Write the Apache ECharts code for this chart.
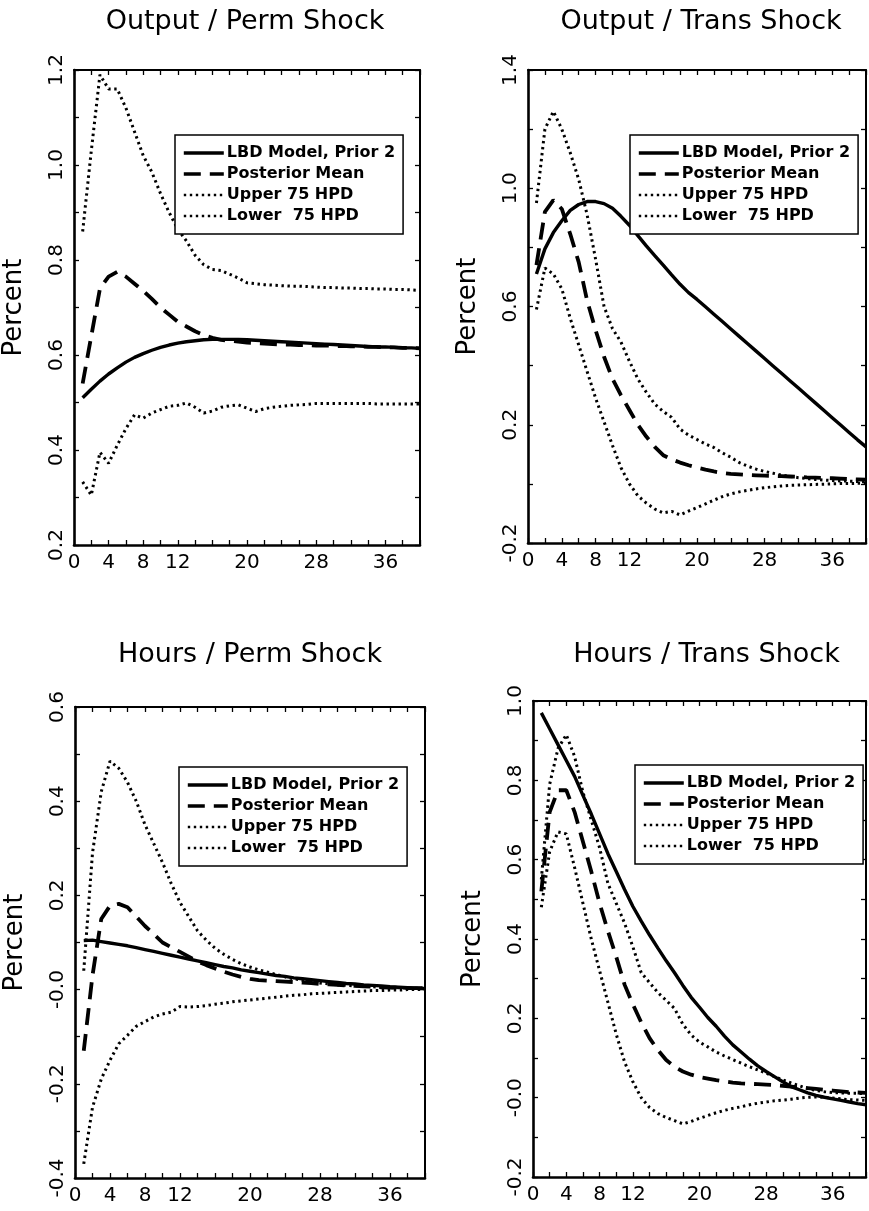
<!DOCTYPE html>
<html>
<head>
<meta charset="utf-8">
<script src="https://cdn.jsdelivr.net/npm/echarts@6/dist/echarts.min.js"></script>
<style>
  html, body { margin: 0; padding: 0; background: #fff; }
  #chart { width: 869px; height: 1211px; }
</style>
</head>
<body>
<div id="chart"></div>
<script>
// quarters after the shock
const periods = [1, 2, 3, 4, 5, 6, 7, 8, 9, 10, 11, 12, 13, 14, 15, 16, 17, 18, 19, 20,
  21, 22, 23, 24, 25, 26, 27, 28, 29, 30, 31, 32, 33, 34, 35, 36, 37, 38, 39, 40];
const seriesNames = ["LBD Model, Prior 2", "Posterior Mean", "Upper 75 HPD", "Lower  75 HPD"];
const xTickLabels = [0, 4, 8, 12, 20, 28, 36];

// Output / Perm Shock
const outPermModel = [0.51, 0.528, 0.545, 0.56, 0.573, 0.585, 0.595, 0.603, 0.61, 0.616, 0.621, 0.625, 0.628, 0.63, 0.632, 0.633, 0.633, 0.633, 0.633, 0.632,
  0.631, 0.63, 0.629, 0.628, 0.627, 0.626, 0.625, 0.624, 0.623, 0.622, 0.621, 0.62, 0.619, 0.618, 0.617, 0.617, 0.616, 0.615, 0.615, 0.614];
const outPermMean = [0.54, 0.64, 0.74, 0.765, 0.775, 0.765, 0.75, 0.735, 0.718, 0.7, 0.685, 0.67, 0.66, 0.65, 0.642, 0.636, 0.632, 0.63, 0.628, 0.626,
  0.625, 0.624, 0.623, 0.622, 0.622, 0.621, 0.621, 0.62, 0.62, 0.619, 0.619, 0.618, 0.618, 0.617, 0.617, 0.616, 0.616, 0.615, 0.615, 0.614];
const outPermUpper = [0.86, 1.03, 1.19, 1.16, 1.16, 1.12, 1.07, 1.02, 0.985, 0.94, 0.9, 0.865, 0.84, 0.81, 0.79, 0.78, 0.778, 0.77, 0.762, 0.752,
  0.75, 0.748, 0.747, 0.746, 0.745, 0.745, 0.744, 0.743, 0.742, 0.742, 0.741, 0.741, 0.74, 0.74, 0.739, 0.739, 0.738, 0.738, 0.737, 0.736];
const outPermLower = [0.333, 0.305, 0.395, 0.372, 0.41, 0.445, 0.474, 0.467, 0.478, 0.485, 0.492, 0.494, 0.499, 0.49, 0.478, 0.482, 0.49, 0.493, 0.495, 0.488,
  0.481, 0.487, 0.49, 0.492, 0.494, 0.495, 0.496, 0.498, 0.498, 0.498, 0.498, 0.498, 0.498, 0.498, 0.497, 0.497, 0.497, 0.497, 0.497, 0.497];

// Output / Trans Shock
const outTransModel = [0.71, 0.795, 0.85, 0.89, 0.925, 0.945, 0.955, 0.955, 0.948, 0.932, 0.905, 0.875, 0.84, 0.805, 0.772, 0.74, 0.707, 0.675, 0.647, 0.624,
  0.599, 0.574, 0.549, 0.524, 0.499, 0.474, 0.449, 0.424, 0.399, 0.374, 0.349, 0.324, 0.299, 0.274, 0.249, 0.224, 0.199, 0.174, 0.149, 0.125];
const outTransMean = [0.74, 0.92, 0.96, 0.93, 0.845, 0.75, 0.62, 0.52, 0.43, 0.355, 0.3, 0.25, 0.2, 0.16, 0.125, 0.097, 0.083, 0.072, 0.063, 0.055,
  0.048, 0.042, 0.037, 0.034, 0.032, 0.03, 0.029, 0.028, 0.027, 0.026, 0.025, 0.024, 0.022, 0.021, 0.02, 0.019, 0.018, 0.016, 0.015, 0.014];
const outTransUpper = [0.95, 1.2, 1.26, 1.2, 1.12, 1.03, 0.91, 0.76, 0.6, 0.525, 0.48, 0.415, 0.355, 0.31, 0.27, 0.245, 0.225, 0.185, 0.165, 0.15,
  0.135, 0.123, 0.105, 0.09, 0.072, 0.06, 0.05, 0.042, 0.036, 0.03, 0.025, 0.021, 0.018, 0.015, 0.013, 0.011, 0.01, 0.009, 0.008, 0.007];
const outTransLower = [0.59, 0.73, 0.71, 0.66, 0.56, 0.47, 0.38, 0.29, 0.21, 0.13, 0.055, 0.0, -0.04, -0.065, -0.085, -0.098, -0.093, -0.105, -0.092, -0.08,
  -0.068, -0.055, -0.043, -0.034, -0.027, -0.022, -0.017, -0.013, -0.01, -0.007, -0.005, -0.004, -0.003, -0.002, -0.001, 0, 0.001, 0.001, 0.002, 0.002];

// Hours / Perm Shock
const hrsPermModel = [0.104, 0.105, 0.102, 0.099, 0.096, 0.093, 0.089, 0.085, 0.081, 0.077, 0.073, 0.069, 0.065, 0.061, 0.057, 0.053, 0.049, 0.046, 0.042, 0.039,
  0.036, 0.033, 0.03, 0.028, 0.025, 0.023, 0.021, 0.019, 0.017, 0.015, 0.013, 0.012, 0.01, 0.009, 0.008, 0.006, 0.005, 0.004, 0.003, 0.002];
const hrsPermMean = [-0.13, 0.03, 0.15, 0.178, 0.182, 0.175, 0.155, 0.135, 0.118, 0.1, 0.09, 0.08, 0.07, 0.06, 0.052, 0.045, 0.038, 0.032, 0.027, 0.023,
  0.02, 0.019, 0.018, 0.017, 0.016, 0.015, 0.014, 0.012, 0.011, 0.01, 0.009, 0.008, 0.007, 0.006, 0.005, 0.004, 0.004, 0.003, 0.003, 0.003];
const hrsPermUpper = [0.04, 0.29, 0.42, 0.485, 0.47, 0.44, 0.4, 0.35, 0.31, 0.27, 0.225, 0.185, 0.155, 0.125, 0.105, 0.088, 0.075, 0.064, 0.055, 0.048,
  0.042, 0.037, 0.032, 0.027, 0.023, 0.02, 0.017, 0.014, 0.012, 0.01, 0.009, 0.008, 0.007, 0.006, 0.005, 0.004, 0.004, 0.003, 0.003, 0.003];
const hrsPermLower = [-0.37, -0.25, -0.19, -0.15, -0.115, -0.097, -0.078, -0.068, -0.058, -0.052, -0.048, -0.036, -0.037, -0.036, -0.034, -0.031, -0.029, -0.026, -0.024, -0.022,
  -0.02, -0.018, -0.016, -0.014, -0.012, -0.011, -0.009, -0.008, -0.007, -0.006, -0.005, -0.004, -0.003, -0.002, -0.002, -0.001, -0.001, 0, 0, 0];

// Hours / Trans Shock
const hrsTransModel = [0.97, 0.93, 0.89, 0.85, 0.81, 0.762, 0.715, 0.665, 0.615, 0.57, 0.525, 0.482, 0.445, 0.41, 0.377, 0.345, 0.315, 0.283, 0.253, 0.228,
  0.202, 0.18, 0.155, 0.133, 0.115, 0.097, 0.08, 0.066, 0.053, 0.04, 0.028, 0.02, 0.012, 0.006, 0.001, -0.003, -0.007, -0.011, -0.015, -0.018];
const hrsTransMean = [0.52, 0.72, 0.775, 0.775, 0.72, 0.645, 0.57, 0.49, 0.42, 0.355, 0.285, 0.235, 0.19, 0.15, 0.12, 0.095, 0.078, 0.066, 0.058, 0.052,
  0.048, 0.044, 0.041, 0.038, 0.036, 0.035, 0.034, 0.033, 0.032, 0.03, 0.028, 0.026, 0.024, 0.022, 0.02, 0.018, 0.016, 0.014, 0.013, 0.012];
const hrsTransUpper = [0.55, 0.79, 0.88, 0.915, 0.86, 0.77, 0.7, 0.63, 0.54, 0.49, 0.44, 0.38, 0.315, 0.29, 0.265, 0.245, 0.225, 0.185, 0.158, 0.14,
  0.128, 0.115, 0.105, 0.096, 0.087, 0.078, 0.07, 0.062, 0.053, 0.045, 0.037, 0.03, 0.023, 0.018, 0.015, 0.013, 0.012, 0.011, 0.011, 0.01];
const hrsTransLower = [0.48, 0.62, 0.67, 0.665, 0.58, 0.49, 0.4, 0.32, 0.24, 0.16, 0.09, 0.04, 0.0, -0.025, -0.04, -0.05, -0.058, -0.066, -0.06, -0.052,
  -0.045, -0.038, -0.032, -0.027, -0.023, -0.018, -0.014, -0.011, -0.008, -0.006, -0.004, -0.001, 0.001, 0.002, 0.001, -0.001, -0.003, -0.005, -0.006, -0.007];

const panels = [
  { title: "Output / Perm Shock", grid: { left: 70, top: 70, width: 350, height: 475 }, titleTop: 8,
    yMin: 0.2, yMax: 1.2, yTick: 0.1, yLabelStep: 0.2, negZero: false,
    legendPos: { left: 175, top: 135 },
    lines: [outPermModel, outPermMean, outPermUpper, outPermLower] },
  { title: "Output / Trans Shock", grid: { left: 528, top: 70, width: 346, height: 473 }, titleTop: 8,
    yMin: -0.2, yMax: 1.4, yTick: 0.2, yLabelStep: 0.4, negZero: false,
    legendPos: { left: 630, top: 135 },
    lines: [outTransModel, outTransMean, outTransUpper, outTransLower] },
  { title: "Hours / Perm Shock", grid: { left: 75, top: 707, width: 350, height: 471 }, titleTop: 641,
    yMin: -0.4, yMax: 0.6, yTick: 0.1, yLabelStep: 0.2, negZero: true,
    legendPos: { left: 179, top: 767 },
    lines: [hrsPermModel, hrsPermMean, hrsPermUpper, hrsPermLower] },
  { title: "Hours / Trans Shock", grid: { left: 533, top: 701, width: 347, height: 476 }, titleTop: 641,
    yMin: -0.2, yMax: 1.0, yTick: 0.1, yLabelStep: 0.2, negZero: true,
    legendPos: { left: 635, top: 765 },
    lines: [hrsTransModel, hrsTransMean, hrsTransUpper, hrsTransLower] }
];

const font = "DejaVu Sans";
const ink = "#000";

const lineStyles = [
  { color: ink, width: 3.4, type: "solid" },
  { color: ink, width: 3.8, type: [17, 9] },
  { color: ink, width: 3, type: [2.4, 3.6] },
  { color: ink, width: 3, type: [2.4, 3.6] }
];

const tickStyle = { inside: true, length: 5, lineStyle: { color: ink, width: 1.3 } };

const yFormatter = (p) => (v) => {
  const k = Math.round((v - p.yMin) / p.yLabelStep);
  if (Math.abs(v - p.yMin - k * p.yLabelStep) > 1e-6) return "";
  let s = (Math.round(v * 10) / 10).toFixed(1);
  if (s === "0.0" && p.negZero) s = "-0.0";
  return s;
};

const grids = [], titles = [], legends = [], xAxes = [], yAxes = [], series = [];

panels.forEach((p, i) => {
  grids.push(p.grid);

  titles.push({
    text: p.title,
    left: p.grid.left + p.grid.width / 2,
    top: p.titleTop,
    textAlign: "center",
    padding: 0,
    textStyle: { fontFamily: font, fontSize: 27, fontWeight: "normal", color: ink }
  });

  legends.push({
    data: seriesNames.map((n, k) => ({
      name: n,
      itemStyle: { color: ink, opacity: 0 },
      lineStyle: Object.assign({}, lineStyles[k], { width: k < 2 ? 3.6 : 2.6 })
    })),
    orient: "vertical",
    left: p.legendPos.left,
    top: p.legendPos.top,
    selectedMode: false,
    backgroundColor: "#fff",
    borderColor: ink,
    borderWidth: 1.5,
    borderRadius: 0,
    padding: [10, 8, 10, 7],
    itemWidth: 40,
    itemHeight: 16,
    itemGap: 5,
    textStyle: { fontFamily: font, fontSize: 16, fontWeight: "bold", color: ink, padding: [0, 0, 0, -2] }
  });

  const xBase = {
    type: "value", gridIndex: i, min: 0, max: 40, interval: 2,
    splitLine: { show: false }, axisTick: tickStyle
  };
  xAxes.push(Object.assign({}, xBase, {
    position: "bottom",
    axisLine: { onZero: false, lineStyle: { color: ink, width: 2.6 } },
    axisLabel: {
      margin: 8, color: ink, fontFamily: font, fontSize: 20,
      formatter: (v) => (xTickLabels.indexOf(Math.round(v)) >= 0 ? String(Math.round(v)) : "")
    }
  }));
  xAxes.push(Object.assign({}, xBase, {
    position: "top",
    axisLine: { onZero: false, lineStyle: { color: ink, width: 2 } },
    axisLabel: { show: false }
  }));

  const yBase = {
    type: "value", gridIndex: i, min: p.yMin, max: p.yMax, interval: p.yTick,
    splitLine: { show: false }, axisTick: tickStyle
  };
  yAxes.push(Object.assign({}, yBase, {
    position: "left",
    name: "Percent",
    nameLocation: "middle",
    nameGap: 47,
    nameRotate: 90,
    nameTextStyle: { fontFamily: font, fontSize: 26, color: ink },
    axisLine: { onZero: false, lineStyle: { color: ink, width: 2.6 } },
    axisLabel: { rotate: 90, margin: 7, color: ink, fontFamily: font, fontSize: 20, formatter: yFormatter(p) }
  }));
  yAxes.push(Object.assign({}, yBase, {
    position: "right",
    axisLine: { onZero: false, lineStyle: { color: ink, width: 2 } },
    axisLabel: { show: false }
  }));

  // dotted bands first, then posterior mean, then model on top
  [2, 3, 1, 0].forEach((k) => {
    series.push({
      type: "line",
      name: seriesNames[k],
      xAxisIndex: 2 * i,
      yAxisIndex: 2 * i,
      symbol: "none",
      silent: true,
      itemStyle: { color: ink },
      lineStyle: lineStyles[k],
      data: periods.map((t, j) => [t, p.lines[k][j]])
    });
  });
});

const chart = echarts.init(document.getElementById("chart"));
chart.setOption({
  backgroundColor: "#fff",
  animation: false,
  title: titles,
  legend: legends,
  grid: grids,
  xAxis: xAxes,
  yAxis: yAxes,
  series: series
});
</script>
</body>
</html>
